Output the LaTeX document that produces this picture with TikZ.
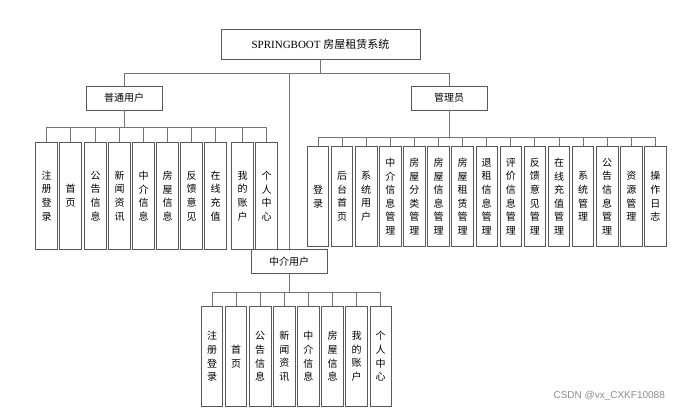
\documentclass[tikz,border=0pt]{standalone}
\usepackage{fontspec}
\setmainfont{Liberation Serif}
\newfontfamily\cjk{Noto Sans CJK SC}
\newfontfamily\wmfont{Liberation Sans}
\tikzset{
	topbox/.style={draw=black!65, line width=0.9pt, inner sep=0pt, minimum width=199, minimum height=30},
	midbox/.style={draw=black!65, line width=0.9pt, inner sep=0pt, minimum width=76, minimum height=24, font=\cjk\fontsize{10}{12}\selectfont},
	itembox/.style={draw=black!65, line width=0.9pt, inner sep=0pt, anchor=north, minimum width=21.5, align=center, font=\cjk\fontsize{10}{13.6}\selectfont},
	link/.style={draw=black!55, line width=0.9pt}
}
\begin{document}
\begin{tikzpicture}[x=1pt,y=-1pt]
	\useasboundingbox (0,0) rectangle (690,411);
	% top and second level
	\node[topbox] (sys) at (320.5,44) {\fontsize{11}{13}\selectfont SPRINGBOOT {\cjk 房屋租赁系统}};
	\node[midbox] (pu) at (124,98) {普通用户};
	\node[midbox] (pm) at (449,98) {管理员};
	\node[midbox] (pa) at (289,261.5) {中介用户};
	\draw[link] (sys.south) -- ++(0,14) -| (pu.north);
	\draw[link] (sys.south) -- ++(0,14) -| (pm.north);
	\draw[link] (sys.south) -- ++(0,14) -| (pa.north);
	% user items
	\foreach \x/\t [count=\i] in {46.5/{注\\册\\登\\录}, 70.5/{首\\页}, 95.5/{公\\告\\信\\息}, 119.5/{新\\闻\\资\\讯},
		143.5/{中\\介\\信\\息}, 167.5/{房\\屋\\信\\息}, 191.5/{反\\馈\\意\\见}, 215.5/{在\\线\\充\\值},
		242.5/{我\\的\\账\\户}, 266.5/{个\\人\\中\\心}} {
		\node[itembox, minimum height=107] (u\i) at (\x,142) {\t};
		\draw[link] (pu.south) -- ++(0,17) -| (u\i.north);
	}
	% manager items
	\foreach \t [count=\i] in {{登\\录}, {后\\台\\首\\页}, {系\\统\\用\\户}, {中\\介\\信\\息\\管\\理}, {房\\屋\\分\\类\\管\\理},
		{房\\屋\\信\\息\\管\\理}, {房\\屋\\租\\赁\\管\\理}, {退\\租\\信\\息\\管\\理}, {评\\价\\信\\息\\管\\理}, {反\\馈\\意\\见\\管\\理},
		{在\\线\\充\\值\\管\\理}, {系\\统\\管\\理}, {公\\告\\信\\息\\管\\理}, {资\\源\\管\\理}, {操\\作\\日\\志}} {
		\node[itembox, minimum height=100] (m\i) at ({318+24.1*(\i-1)},146) {\t};
		\draw[link] (pm.south) -- ++(0,27) -| (m\i.north);
	}
	% agent items
	\foreach \t [count=\i] in {{注\\册\\登\\录}, {首\\页}, {公\\告\\信\\息}, {新\\闻\\资\\讯}, {中\\介\\信\\息},
		{房\\屋\\信\\息}, {我\\的\\账\\户}, {个\\人\\中\\心}} {
		\node[itembox, minimum height=100] (a\i) at ({212+24.1*(\i-1)},306) {\t};
		\draw[link] (pa.south) -- ++(0,18.5) -| (a\i.north);
	}
	\node[anchor=west, text=black!45, font=\wmfont\fontsize{10}{12}\selectfont] (wm) at (550,396) {CSDN @vx\_CXKF10088};
\end{tikzpicture}
\end{document}
